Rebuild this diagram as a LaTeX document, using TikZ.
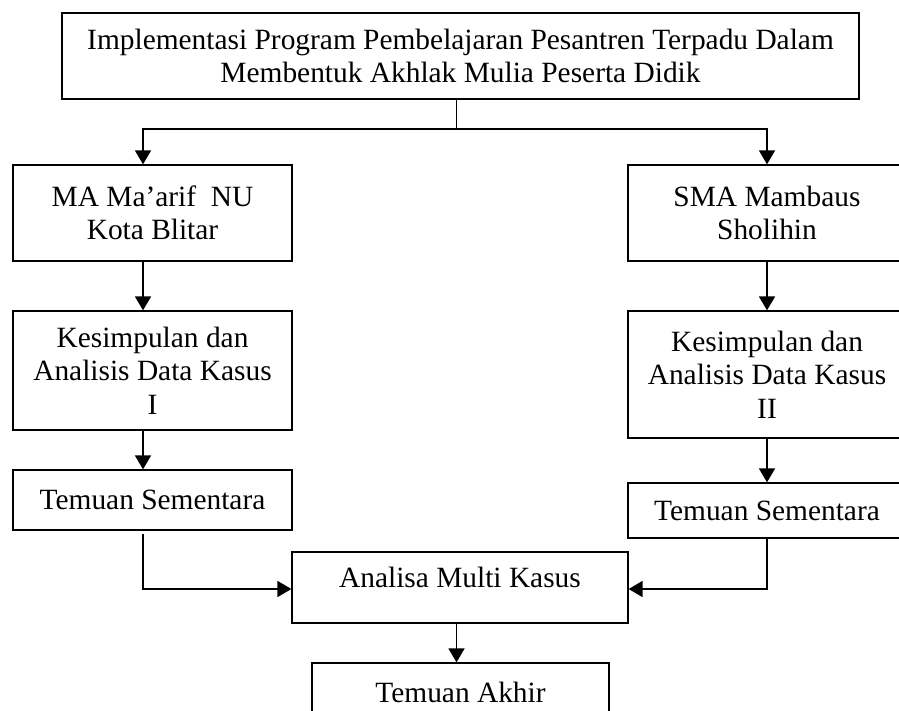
\documentclass[tikz,border=0pt]{standalone}
\usepackage{fontspec}
\setmainfont{Liberation Serif}
\usetikzlibrary{arrows.meta}
\tikzset{
  box/.style={draw, line width=1.3pt, rectangle, inner sep=0pt, align=center,
    font=\fontsize{29.4}{33.5}\selectfont},
  arr/.style={line width=1.8pt, -{Triangle[width=16pt,length=14pt]}},
  conn/.style={line width=1.8pt}
}
\begin{document}
\begin{tikzpicture}[x=1pt,y=-1pt]
\useasboundingbox (0,0) rectangle (899,711);
\clip (0,0) rectangle (899,711);
\fill[white] (0,0) rectangle (899,711);

\node[box, minimum width=797pt, minimum height=86pt] (top) at (460.5,56)
  {Implementasi Program Pembelajaran Pesantren Terpadu Dalam\\Membentuk Akhlak Mulia Peserta Didik};
\node[box, minimum width=279pt, minimum height=96pt] (ma) at (152.5,213)
  {MA Ma’arif \ NU\\Kota Blitar};
\node[box, minimum width=278pt, minimum height=96pt] (sma) at (767,213)
  {SMA Mambaus\\Sholihin};
\node[box, minimum width=279pt, minimum height=119pt] (k1) at (152.5,370.5)
  {Kesimpulan dan\\Analisis Data Kasus\\I};
\node[box, minimum width=278pt, minimum height=127pt] (k2) at (767,374.5)
  {Kesimpulan dan\\Analisis Data Kasus\\II};
\node[box, minimum width=279pt, minimum height=60pt] (ts1) at (152.5,500)
  {Temuan Sementara};
\node[box, minimum width=278pt, minimum height=55pt] (ts2) at (767,510.5)
  {Temuan Sementara};
\node[box, minimum width=336pt, minimum height=71pt, text depth=20pt] (am) at (460,587.5)
  {Analisa Multi Kasus};
\node[box, minimum width=297pt, minimum height=58pt] (ta) at (460.5,692)
  {Temuan Akhir};

\coordinate (xl) at (143,0);
\coordinate (xm) at (456.5,0);
\coordinate (split) at (456.5,129);
\coordinate (l0) at (143,534);

\draw[conn] (top.south -| split) -- (split);
\draw[arr] (split) -| (ma.north -| xl);
\draw[arr] (split) -| (sma.north);
\draw[arr] (ma.south -| xl) -- (k1.north -| xl);
\draw[arr] (sma.south) -- (k2.north);
\draw[arr] (k1.south -| xl) -- (ts1.north -| xl);
\draw[arr] (k2.south) -- (ts2.north);
\draw[arr] (l0) |- ([yshift=-1.5pt]am.west);
\draw[arr] (ts2.south) |- ([yshift=-1.5pt]am.east);
\draw[arr] (am.south -| xm) -- (ta.north -| xm);
\end{tikzpicture}
\end{document}
